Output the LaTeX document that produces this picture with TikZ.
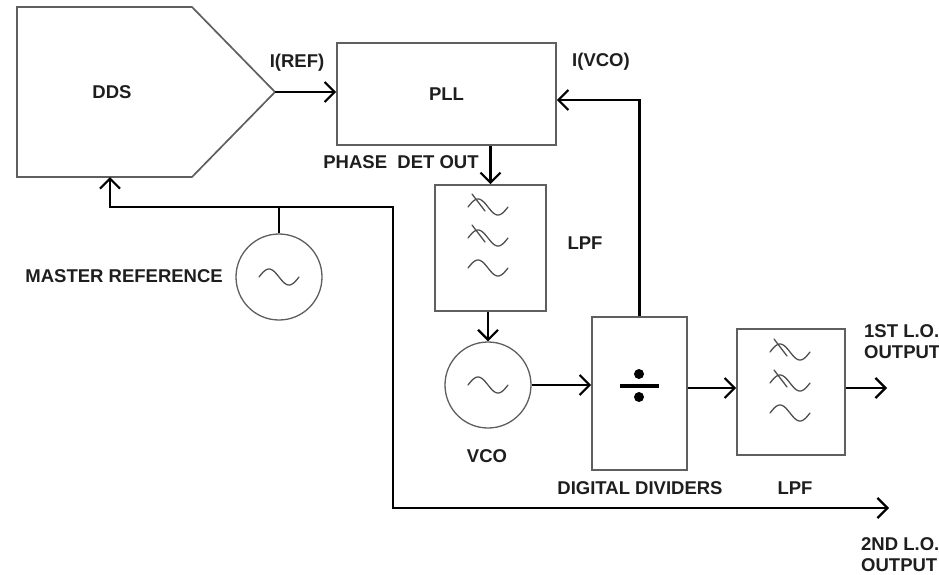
\documentclass[tikz,border=0pt]{standalone}
\usepackage{fontspec}
\setmainfont{Liberation Sans}
\usetikzlibrary{arrows.meta}
\definecolor{boxgray}{RGB}{95,95,95}
\definecolor{wavegray}{RGB}{80,80,80}
\definecolor{txt}{RGB}{30,30,30}
\begin{document}
\begin{tikzpicture}[x=1pt,y=-1pt,
  box/.style={draw=boxgray, line width=1.7pt, inner sep=0pt, font=\fontsize{18.5}{21}\selectfont\bfseries, text=txt},
  osc/.style={circle, draw=boxgray, line width=1.3pt, minimum size=86pt, inner sep=0pt},
  lbl/.style={font=\fontsize{18.5}{21}\selectfont\bfseries, text=txt, inner sep=0pt},
  sig/.style={line width=2.3pt, draw=black},
  arr/.style={sig, -{Straight Barb[length=10pt,width=20pt,line width=2.2pt]}},
  pics/wave/.style={code={\draw[line width=1.3pt, draw=wavegray, line cap=round]
     plot[domain=-1:1,samples=40,smooth] (\x*20, {-8*sin(180*(\x+1))});}},
  pics/cutwave/.style={code={\draw[line width=1.3pt, draw=wavegray, line cap=round]
     plot[domain=-1:1,samples=40,smooth] (\x*20, {-8*sin(180*(\x+1))});
     \draw[line width=1.3pt, draw=wavegray, line cap=round] (-16,-13) -- (-3,4);}}
]
\useasboundingbox (0,0) rectangle (939,574);
\fill[white] (0,0) rectangle (939,574);

% DDS
\draw[draw=boxgray, line width=1.7pt] (17,7) -- (192,7) -- (275,92) -- (192,177) -- (17,177) -- cycle;
\coordinate (ddstip) at (275,92);
\coordinate (ddsbot) at (110,177);
\node[lbl] (ddslbl) at (112,92) {DDS};

% PLL
\node[box, minimum width=219pt, minimum height=102pt] (pll) at (446.5,94) {PLL};
\node[lbl] (iref) at (297,63) {I(REF)};
\node[lbl] (ivco) at (601,62) {I(VCO)};
\node[lbl] (pdo) at (401,162) {PHASE\ \ DET OUT};

% LPF 1
\node[box, minimum width=111pt, minimum height=126pt] (lpf1) at (490.5,248) {};
\pic at (488,207) {cutwave};
\pic at (488,238) {cutwave};
\pic at (488,268) {wave};
\node[lbl] (lpf1lbl) at (585,243) {LPF};

% VCO
\node[osc] (vco) at (488,385) {};
\pic at (488,385) {wave};
\node[lbl] (vcolbl) at (487,456) {VCO};

% Digital dividers
\node[box, minimum width=95pt, minimum height=153pt] (div) at (639.5,393.5) {};
\draw[line width=3.2pt, draw=black] (620,386) -- (659,386);
\fill (639,374) circle (5);
\fill (639,397) circle (5);
\node[lbl] (divlbl) at (640,488) {DIGITAL DIVIDERS};

% LPF 2
\node[box, minimum width=108pt, minimum height=126pt] (lpf2) at (791,392) {};
\pic at (790,352) {cutwave};
\pic at (790,383) {cutwave};
\pic at (790,413) {wave};
\node[lbl] (lpf2lbl) at (795,488) {LPF};

% Master reference
\node[osc] (mref) at (279,277) {};
\pic at (279,277) {wave};
\node[lbl, anchor=east] (mreflbl) at (223,276) {MASTER REFERENCE};

% outputs
\coordinate (out1) at (887,388);
\coordinate (out2) at (889,508);
\node[lbl, anchor=north west, align=left] (o1lbl) at (864,324) {1ST L.O.\\OUTPUT};
\node[lbl, anchor=north west, align=left] (o2lbl) at (861,537) {2ND L.O.\\OUTPUT};

% connectors
\draw[arr] (ddstip) -- (ddstip -| pll.west);
\coordinate (fb) at (639.5,100);
\draw[arr] (div.north) -- (fb) -- (fb -| pll.east);
\draw[arr] (lpf1.north |- pll.south) -- (lpf1.north);
\draw[arr] (vco.north |- lpf1.south) -- (vco.north);
\draw[arr] (vco.east) -- (vco.east -| div.west);
\coordinate (d2) at (687,388);
\draw[arr] (d2 -| div.east) -- (d2 -| lpf2.west);
\draw[arr] (out1 -| lpf2.east) -- (out1);
\coordinate (jn) at (279,207);
\coordinate (c1) at (393,207);
\coordinate (c2) at (393,508);
\draw[sig] (mref.north) -- (jn);
\draw[arr] (jn) -| (ddsbot);
\draw[arr] (jn) -- (c1) -- (c2) -- (out2);
\end{tikzpicture}
\end{document}
